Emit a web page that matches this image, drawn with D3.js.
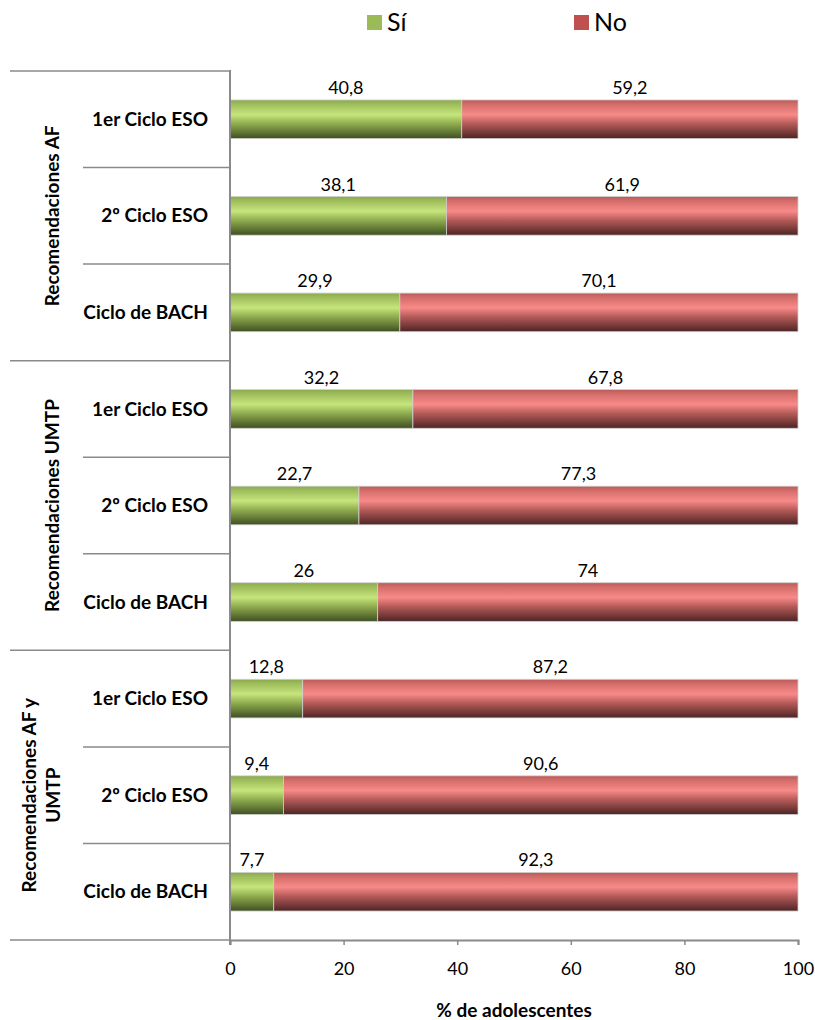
<!DOCTYPE html>
<html>
<head>
<meta charset="utf-8">
<script src="https://cdn.jsdelivr.net/npm/d3@7"></script>
<style>
  html, body { margin: 0; padding: 0; background: #fff; }
  svg { display: block; font-family: Lato, "Open Sans", sans-serif; }
</style>
</head>
<body>
<svg id="chart" width="815" height="1020"></svg>
<script>
// Grouped categories: three recommendation groups, each with three school levels
const groups = ["Recomendaciones AF", "Recomendaciones UMTP", "Recomendaciones AF y UMTP"];
const levels = ["1er Ciclo ESO", "2º Ciclo ESO", "Ciclo de BACH"];
const seriesNames = ["Sí", "No"];
const siValues = [40.8, 38.1, 29.9, 32.2, 22.7, 26, 12.8, 9.4, 7.7];
const noValues = [59.2, 61.9, 70.1, 67.8, 77.3, 74, 87.2, 90.6, 92.3];
const xTicks = [0, 20, 40, 60, 80, 100];
const xTitle = "% de adolescentes";

const rows = [];
groups.forEach((g, gi) => levels.forEach((l, li) => {
  const i = gi * levels.length + li;
  rows.push({ key: i, group: g, level: l, si: siValues[i], no: noValues[i] });
}));

const svg = d3.select("#chart");
const plotLeft = 230, plotRight = 798, plotTop = 71, plotBottom = 940;
const axisColor = "#8a8a8a";
const fontStack = "Lato, 'Open Sans', sans-serif";

const x = d3.scaleLinear().domain([0, 100]).range([plotLeft, plotRight]);
const y = d3.scaleBand().domain(rows.map(r => r.key)).range([plotTop, plotBottom])
  .paddingInner(0.6).paddingOuter(0.3);
const step = y.step();

// Gradients giving the bars their rounded, glossy look
const defs = svg.append("defs");
const grads = {
  "Sí": [["0%", "#8aa94c"], ["12%", "#9fbe5c"], ["38%", "#c6e57c"], ["62%", "#8eab4e"], ["100%", "#3f4f22"]],
  "No": [["0%", "#bb5a58"], ["12%", "#d46e6b"], ["38%", "#f88a88"], ["62%", "#b35a58"], ["100%", "#4e2424"]]
};
const gradId = { "Sí": "gSi", "No": "gNo" };
Object.entries(grads).forEach(([name, stops]) => {
  const g = defs.append("linearGradient").attr("id", gradId[name])
    .attr("x1", 0).attr("y1", 0).attr("x2", 0).attr("y2", 1);
  stops.forEach(([o, c]) => g.append("stop").attr("offset", o).attr("stop-color", c));
});
const legendColor = { "Sí": "#9bbb59", "No": "#c0504d" };

// Stacked bars
const stack = d3.stack().keys(["si", "no"]);
const layers = stack(rows);
layers.forEach((layer, li) => {
  const name = seriesNames[li];
  svg.append("g").selectAll("rect").data(layer).join("rect")
    .attr("x", d => x(d[0]))
    .attr("y", d => y(d.data.key))
    .attr("width", d => x(d[1]) - x(d[0]))
    .attr("height", y.bandwidth())
    .attr("fill", `url(#${gradId[name]})`)
    .attr("stroke", "#cfcfcf")
    .attr("stroke-width", 0.8);

  // Value labels, centred over each segment just above the bar
  svg.append("g").selectAll("text").data(layer).join("text")
    .attr("x", d => (x(d[0]) + x(d[1])) / 2)
    .attr("y", d => y(d.data.key) - 6)
    .attr("text-anchor", "middle")
    .attr("font-size", 18)
    .attr("fill", "#000")
    .text(d => d3.format(".1~f")(d[1] - d[0]).replace(".", ","));
});

// Category axis: separators, level labels and rotated group labels
const axisG = svg.append("g");
rows.forEach((r, i) => {
  const yTop = plotTop + i * step;
  const isGroupStart = i % levels.length === 0;
  axisG.append("line")
    .attr("x1", isGroupStart ? 10 : 83).attr("x2", plotLeft)
    .attr("y1", yTop).attr("y2", yTop)
    .attr("stroke", axisColor).attr("stroke-width", 1.5);
  axisG.append("text")
    .attr("x", 208).attr("y", y(r.key) + y.bandwidth() / 2)
    .attr("dy", "0.35em")
    .attr("text-anchor", "end")
    .attr("font-size", 19).attr("font-weight", "bold")
    .text(r.level);
});
axisG.append("line").attr("x1", 10).attr("x2", plotLeft).attr("y1", plotBottom).attr("y2", plotBottom)
  .attr("stroke", axisColor).attr("stroke-width", 1.5);

const groupLines = [["Recomendaciones AF"], ["Recomendaciones UMTP"], ["Recomendaciones AF y", "UMTP"]];
groups.forEach((g, gi) => {
  const cy = plotTop + (gi * levels.length + levels.length / 2) * step;
  const lines = groupLines[gi];
  const cx = lines.length > 1 ? 41 : 52;
  const t = axisG.append("text")
    .attr("transform", `translate(${cx},${cy}) rotate(-90)`)
    .attr("text-anchor", "middle")
    .attr("font-size", 19).attr("font-weight", "bold");
  lines.forEach((ln, k) => {
    t.append("tspan").attr("x", 0)
      .attr("y", (k - (lines.length - 1) / 2) * 24)
      .attr("dy", "0.35em")
      .text(ln);
  });
});

// Vertical axis line
svg.append("line").attr("x1", plotLeft).attr("x2", plotLeft).attr("y1", plotTop - 1).attr("y2", plotBottom + 5)
  .attr("stroke", axisColor).attr("stroke-width", 2);

// Value axis
const xAxis = svg.append("g").attr("transform", `translate(0,${plotBottom})`)
  .call(d3.axisBottom(x).tickValues(xTicks).tickSize(5).tickPadding(17));
xAxis.select(".domain").attr("stroke", axisColor).attr("stroke-width", 2);
xAxis.selectAll(".tick line").attr("stroke", axisColor).attr("stroke-width", 1.5);
xAxis.selectAll(".tick text").attr("font-size", 18).attr("font-family", fontStack).attr("fill", "#000");

svg.append("text")
  .attr("x", (plotLeft + plotRight) / 2).attr("y", 1017)
  .attr("text-anchor", "middle")
  .attr("font-size", 19).attr("font-weight", "bold")
  .text(xTitle);

// Legend
const legendPos = [367, 574];
seriesNames.forEach((name, i) => {
  const lg = svg.append("g").attr("transform", `translate(${legendPos[i]},15)`);
  lg.append("rect").attr("width", 15).attr("height", 15).attr("fill", legendColor[name]);
  lg.append("text").attr("x", 20).attr("y", 16).attr("font-size", 25).text(name);
});
</script>
</body>
</html>
